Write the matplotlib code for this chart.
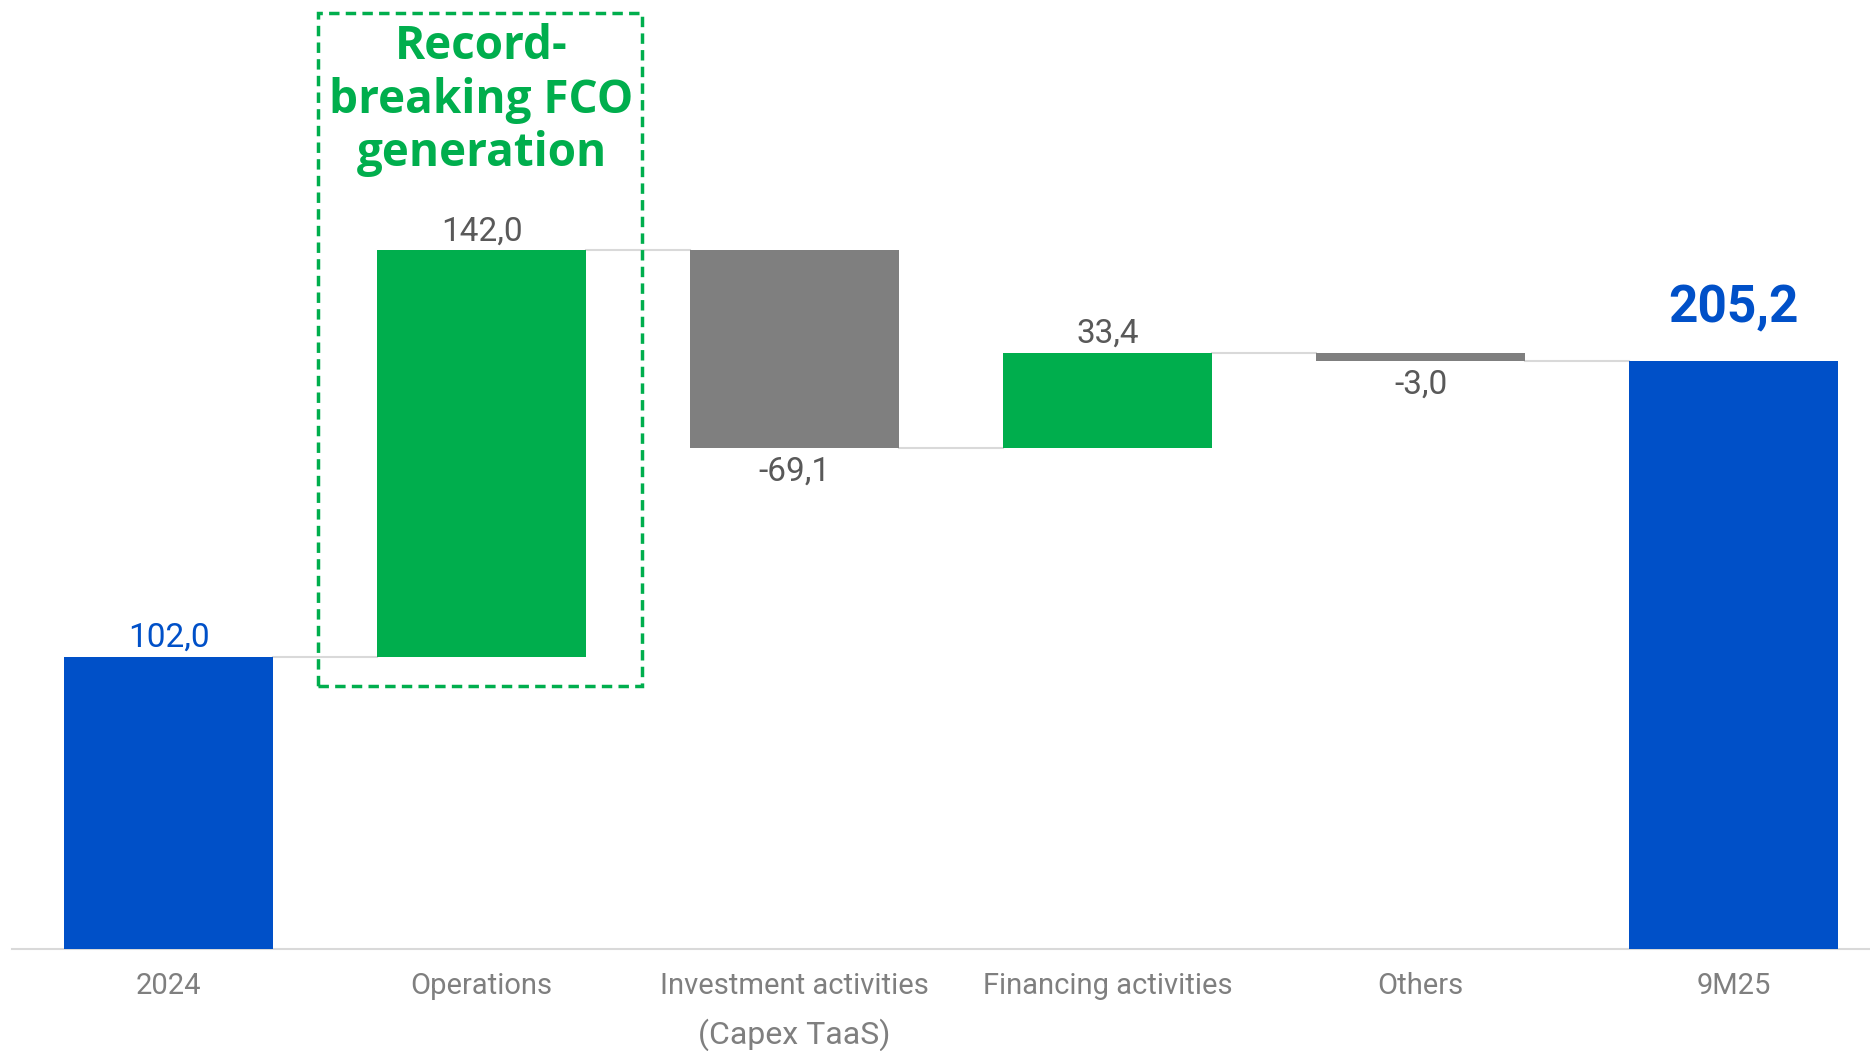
import numpy as np
import matplotlib.pyplot as plt
from matplotlib.patches import Rectangle
from matplotlib.transforms import blended_transform_factory

categories = ['2024', 'Operations', 'Investment activities',
              'Financing activities', 'Others', '9M25']
sub_label = '(Capex TaaS)'
start_value = 102.0
changes = [142.0, -69.1, 33.4, -3.0]
end_value = 205.2
labels = ['102,0', '142,0', '-69,1', '33,4', '-3,0', '205,2']

blue = '#0050C8'
green = '#00AE4D'
grey = '#7F7F7F'
line_grey = '#D9D9D9'
text_grey = '#595959'

plt.rcParams['font.family'] = ['Roboto', 'DejaVu Sans']

fig = plt.figure(figsize=(18.7, 10.51), dpi=100)
ax = fig.add_axes([12 / 1870, 0.097, 1 - 12 / 1870, 0.903])

x = np.arange(len(categories))
width = 0.667

# running totals for the floating bars
levels = start_value + np.cumsum([0] + changes)
bottoms = [0]
heights = [start_value]
colors = [blue]
for i, c in enumerate(changes):
    prev = levels[i]
    bottoms.append(prev if c >= 0 else prev + c)
    heights.append(abs(c))
    colors.append(green if c >= 0 else grey)
bottoms.append(0)
heights.append(end_value)
colors.append(blue)

ax.bar(x, heights, width, bottom=bottoms, color=colors, zorder=3)

# connector lines
tops = list(levels) + [end_value]
for i in range(len(categories) - 1):
    ax.plot([x[i] + width / 2, x[i + 1] - width / 2], [tops[i], tops[i]],
            color=line_grey, lw=1.5, zorder=2)

# value labels
ax.text(x[0], start_value + 1, labels[0], ha='center', va='bottom',
        fontsize=24, color=blue)
for i, c in enumerate(changes):
    xi = x[i + 1]
    if c >= 0:
        ax.text(xi, bottoms[i + 1] + heights[i + 1] + 1, labels[i + 1],
                ha='center', va='bottom', fontsize=24, color=text_grey)
    else:
        ax.text(xi, bottoms[i + 1] - 2.5, labels[i + 1], ha='center', va='top',
                fontsize=24, color=text_grey)
ax.text(x[-1], end_value + 9.75, labels[-1], ha='center', va='bottom',
        fontsize=37, color=blue, fontweight='bold')

# highlight box around operations
ax.add_patch(Rectangle((0.477, 91.8), 1.035, 235.0, fill=False,
                       edgecolor=green, lw=2.5, linestyle=(0, (3, 1.8)),
                       zorder=4, clip_on=False))
ax.text(1.0, 296.4, 'Record-\nbreaking FCO\ngeneration', ha='center', va='center',
        fontsize=33, color=green, fontweight='bold', linespacing=1.18,
        family=['Open Sans', 'DejaVu Sans'])

ax.set_xlim(-0.5, 5.435)
ax.set_ylim(0, 331.4)
ax.set_xticks(x)
ax.set_xticklabels(categories, fontsize=21, color=grey)
ax.tick_params(axis='x', length=0, pad=16.5)
trans = blended_transform_factory(ax.transData, ax.transAxes)
ax.text(x[2], -0.090, sub_label, transform=trans, ha='center', va='center',
        fontsize=23, color=grey)
ax.set_yticks([])
for s in ['top', 'right', 'left']:
    ax.spines[s].set_visible(False)
ax.spines['bottom'].set_color(line_grey)
ax.spines['bottom'].set_linewidth(1.5)

plt.savefig('out.png', dpi=100)
